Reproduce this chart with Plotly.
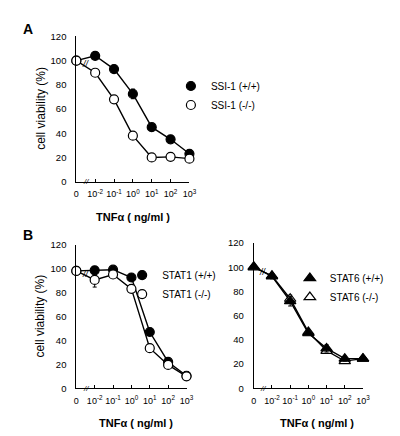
import plotly.graph_objects as go

# positions on the broken x axis: 0, 10^-2 ... 10^3
x_pos = [0, 1, 2, 3, 4, 5, 6]
tick_text = ["0", "10<sup>-2</sup>", "10<sup>-1</sup>", "10<sup>0</sup>",
             "10<sup>1</sup>", "10<sup>2</sup>", "10<sup>3</sup>"]
y_ticks = [0, 20, 40, 60, 80, 100, 120]

# Panel A
ssi_wt = [100, 104, 93, 72.5, 45, 35, 23]
ssi_wt_err = [0, 0, 0, 4, 0, 0, 0]
ssi_ko = [100, 90, 68, 38, 20, 20.5, 19]

# Panel B left
stat1_wt = [98, 98.5, 99, 92.5, 47, 22, 10.5]
stat1_wt_err = [0, 2, 0, 0, 0, 0, 0]
stat1_ko = [98, 90.5, 95, 83, 33.5, 19.5, 10]
stat1_ko_err = [0, 6, 0, 0, 0, 0, 0]

# Panel B right
stat6_wt = [100.5, 92.5, 72, 45.5, 33, 24.5, 24.5]
stat6_wt_err = [0, 2, 4, 0, 3, 2, 0]
stat6_ko = [100, 93, 74, 46.5, 31, 22.5, 24.5]
stat6_ko_err = [0, 0, 3, 0, 0, 0, 0]

FONT = "Arial, Liberation Sans, sans-serif"
W, H = 400, 436

fig = go.Figure()

def add_series(xa, ya, yvals, err, name, symbol, fill, legend, rank):
    size = 9 if symbol == "circle" else 10
    mk = dict(symbol=symbol, size=size, color=fill, line=dict(color="black", width=1.2))
    fig.add_trace(go.Scatter(
        x=x_pos, y=yvals, xaxis=xa, yaxis=ya, name=name, showlegend=False,
        mode="lines+markers", cliponaxis=False,
        line=dict(color="black", width=1.4), marker=mk,
        error_y=dict(type="data", array=err, arrayminus=err, color="black",
                     thickness=1, width=2, visible=err is not None),
    ))
    # legend entry (marker only)
    fig.add_trace(go.Scatter(
        x=[None], y=[None], xaxis=xa, yaxis=ya, name=name, legend=legend,
        legendrank=rank, mode="markers", marker=mk, showlegend=True,
    ))

add_series("x", "y", ssi_wt, ssi_wt_err, "SSI-1 (+/+)", "circle", "black", "legend", 1)
add_series("x", "y", ssi_ko, None, "SSI-1 (-/-)", "circle", "white", "legend", 2)
add_series("x2", "y2", stat1_wt, stat1_wt_err, "STAT1 (+/+)", "circle", "black", "legend2", 1)
add_series("x2", "y2", stat1_ko, stat1_ko_err, "STAT1 (-/-)", "circle", "white", "legend2", 2)
add_series("x3", "y3", stat6_ko, stat6_ko_err, "STAT6 (-/-)", "triangle-up", "white", "legend3", 2)
add_series("x3", "y3", stat6_wt, stat6_wt_err, "STAT6 (+/+)", "triangle-up", "black", "legend3", 1)

def px_x(p):
    return p / W

def px_y(p):
    return 1 - p / H

xcommon = dict(range=[0, 6], tickvals=x_pos, ticktext=tick_text, showline=True,
               linecolor="black", linewidth=1, ticks="inside", ticklen=3,
               tickcolor="black", tickwidth=1, showgrid=False, zeroline=False,
               tickangle=0,
               tickfont=dict(family=FONT, size=9, color="black"),
               ticklabelstandoff=4, fixedrange=True)
ycommon = dict(range=[0, 120], tickvals=y_ticks, showline=True, linecolor="black",
               linewidth=1, ticks="", showgrid=False, zeroline=False,
               tickfont=dict(family=FONT, size=9.5, color="black"),
               ticklabelstandoff=7, fixedrange=True)

fig.update_layout(
    width=W, height=H, margin=dict(l=0, r=0, t=0, b=0),
    paper_bgcolor="white", plot_bgcolor="white", showlegend=True,
    font=dict(family=FONT, color="black"),
    xaxis=dict(domain=[px_x(67), px_x(183)], anchor="y", **xcommon),
    yaxis=dict(domain=[px_y(172), px_y(23)], anchor="x", **ycommon),
    xaxis2=dict(domain=[px_x(67), px_x(180)], anchor="y2", **xcommon),
    yaxis2=dict(domain=[px_y(384), px_y(236.5)], anchor="x2", **ycommon),
    xaxis3=dict(domain=[px_x(249), px_x(361)], anchor="y3", **xcommon),
    yaxis3=dict(domain=[px_y(384), px_y(235)], anchor="x3", **ycommon),
)

leg = dict(xanchor="left", yanchor="top", bgcolor="rgba(0,0,0,0)", borderwidth=0,
           font=dict(family=FONT, size=10, color="black"), itemwidth=30,
           tracegroupgap=0, traceorder="normal")
fig.update_layout(
    legend=dict(x=px_x(164), y=px_y(59), **leg),
    legend2=dict(x=px_x(114), y=px_y(253), **leg),
    legend3=dict(x=px_x(286), y=px_y(256), **leg),
)

ann = []
# panel letters
ann.append(dict(text="<b>A</b>", x=px_x(10), y=px_y(15), xref="paper", yref="paper",
                xanchor="left", yanchor="middle", showarrow=False,
                font=dict(family=FONT, size=14, color="black")))
ann.append(dict(text="<b>B</b>", x=px_x(10), y=px_y(227), xref="paper", yref="paper",
                xanchor="left", yanchor="middle", showarrow=False,
                font=dict(family=FONT, size=14, color="black")))
# y titles
for yc in (97, 310):
    ann.append(dict(text="cell viability (%)", x=px_x(30), y=px_y(yc), xref="paper",
                    yref="paper", xanchor="center", yanchor="middle", textangle=-90,
                    showarrow=False, font=dict(family=FONT, size=12, color="black")))
# x titles
for xc, yc in ((125, 208), (128, 420), (314, 420)):
    ann.append(dict(text="<b>TNFα ( ng/ml )</b>", x=px_x(xc), y=px_y(yc),
                    xref="paper", yref="paper", xanchor="center", yanchor="middle",
                    showarrow=False, font=dict(family=FONT, size=11, color="black")))
# axis breaks and line breaks
for xr, yr, ly in (("x", "y", 97), ("x2", "y2", 95), ("x3", "y3", 96)):
    ann.append(dict(text="<i>//</i>", x=0.5, y=0, xref=xr, yref=yr, showarrow=False,
                    font=dict(family=FONT, size=8, color="black")))
    ann.append(dict(text="<i>//</i>", x=0.5, y=ly, xref=xr, yref=yr, showarrow=False,
                    font=dict(family=FONT, size=9, color="black")))
fig.update_layout(annotations=ann)

fig.write_html("out.html")
